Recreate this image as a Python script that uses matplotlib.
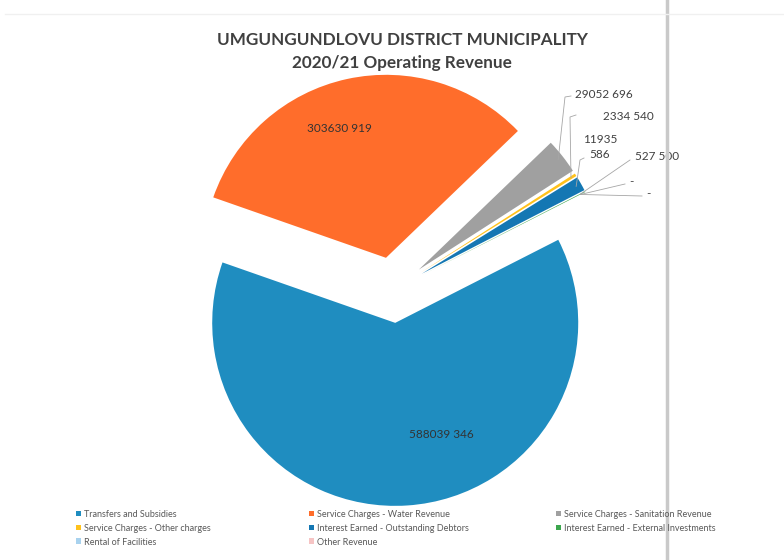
import matplotlib.pyplot as plt
from matplotlib.patches import Patch
from matplotlib.lines import Line2D
import numpy as np

categories = ['Transfers and Subsidies', 'Service Charges - Water Revenue',
              'Service Charges - Sanitation Revenue', 'Service Charges - Other charges',
              'Interest Earned - Outstanding Debtors', 'Interest Earned - External Investments',
              'Rental of Facilities', 'Other Revenue']
values = [588039346, 303630919, 29052696, 2334540, 11935586, 527500, 0, 0]
value_labels = ['588039 346', '303630 919', '29052 696', '2334 540', '11935\n586',
                '527 500', '-', '-']
colors = ['#1F8DC0', '#FF6D2B', '#A0A0A0', '#FFC21C', '#1477B3', '#3CA64E',
          '#A8D2EE', '#F6C4C4']

plt.rcParams['font.family'] = ['Lato', 'DejaVu Sans']

W, H = 784, 560
cx, cy, R = 393, 290, 183   # pie centre / radius in pixels

fig = plt.figure(figsize=(W / 100, H / 100), dpi=100)
ax = fig.add_axes([0, 0, 1, 1])
wedges, _ = ax.pie(values, colors=colors, startangle=27, counterclock=False,
                   explode=[0.18] * len(values), wedgeprops=dict(linewidth=0))
ax.set_xlim(-cx / R, (W - cx) / R)
ax.set_ylim(-(H - cy) / R, cy / R)
ax.set_aspect('auto')
ax.axis('off')


def px(x, y):
    # pixel (from top-left) -> data coords
    return (x - cx) / R, (cy - y) / R


def tip(w, frac=1.0):
    a = np.deg2rad((w.theta1 + w.theta2) / 2)
    return (w.center[0] + frac * w.r * np.cos(a), w.center[1] + frac * w.r * np.sin(a))


# labels inside the two big slices
ax.text(*px(441, 435), value_labels[0], ha='center', va='center', fontsize=8.5, color='#333333')
ax.text(*px(339, 129), value_labels[1], ha='center', va='center', fontsize=8.5, color='#333333')

# outside labels with leader lines: (text x, text y, align, elbow points)
outside = {
    2: (575, 95, 'left', [(571, 96), (565, 97)]),
    3: (603, 116, 'left', [(576, 115), (570, 117)]),
    4: (600, 147, 'center', [(584, 158), (580, 160)]),
    5: (635, 157, 'left', [(630, 160)]),
    6: (629, 182, 'left', [(625, 184)]),
    7: (646, 194, 'left', [(642, 196)]),
}
for i, (tx, ty, ha, elbow) in outside.items():
    pts = [px(*p) for p in elbow] + [tip(wedges[i], 0.97)]
    xs, ys = zip(*pts)
    ax.plot(xs, ys, color='#A6A6A6', lw=0.6)
    ax.text(*px(tx, ty), value_labels[i], ha=ha, va='center', fontsize=8.5,
            color='#404040', linespacing=1.5)

fig.text(0.513, 1 - 40 / H, 'UMGUNGUNDLOVU DISTRICT MUNICIPALITY', ha='center', va='center',
         fontsize=12.3, fontweight='bold', color='#404040')
fig.text(0.513, 1 - 63 / H, '2020/21 Operating Revenue', ha='center', va='center',
         fontsize=12.3, fontweight='bold', color='#404040')

# legend, row-major like Excel -> one legend per column
columns = [[0, 3, 6], [1, 4, 7], [2, 5]]
col_x = [72, 305, 552]
for idxs, x0 in zip(columns, col_x):
    handles = [Patch(facecolor=colors[i], edgecolor='none') for i in idxs]
    leg = fig.legend(handles, [categories[i] for i in idxs], loc='upper left',
                     bbox_to_anchor=(x0 / W, 1 - 506 / H), frameon=False,
                     fontsize=6.5, handlelength=0.6, handleheight=0.6,
                     handletextpad=0.3, labelspacing=0.55, borderaxespad=0)
    for t in leg.get_texts():
        t.set_color('#595959')

# scan artefacts: page fold and faint top border
fig.add_artist(Line2D([667 / W, 667 / W], [0, 1], color='#C9C9C9', lw=2.5))
fig.add_artist(Line2D([5 / W, 1], [1 - 14 / H, 1 - 14 / H], color='#F0F0F0', lw=1))

plt.savefig('out.png', dpi=100)
